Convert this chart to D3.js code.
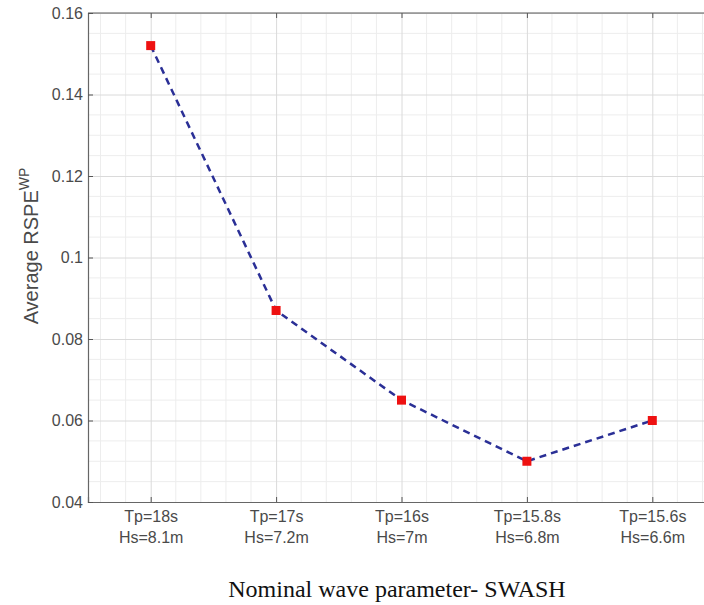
<!DOCTYPE html>
<html>
<head>
<meta charset="utf-8">
<script src="https://cdn.jsdelivr.net/npm/d3@7"></script>
<style>
  body { margin: 0; background: #fff; }
  .tick text { fill: #4a4a4a; font-family: "Liberation Sans", Arial, sans-serif; }
</style>
</head>
<body>
<div id="chart"></div>
<script>
const categories = [1, 2, 3, 4, 5];
const tpLabels = ["Tp=18s", "Tp=17s", "Tp=16s", "Tp=15.8s", "Tp=15.6s"];
const hsLabels = ["Hs=8.1m", "Hs=7.2m", "Hs=7m", "Hs=6.8m", "Hs=6.6m"];
const rspeValues = [0.152, 0.087, 0.065, 0.050, 0.060];
const yTicks = [0.04, 0.06, 0.08, 0.1, 0.12, 0.14, 0.16];

const W = 704, H = 605;
const margin = { top: 13, left: 88 };
const plotBottom = 502;
const plotRight = 715; // axes box runs past the window edge

const svg = d3.select("#chart").append("svg")
  .attr("width", W)
  .attr("height", H);

const x = d3.scaleLinear().domain([0.5, 5.5]).range([margin.left, plotRight]);
const y = d3.scaleLinear().domain([0.04, 0.16]).range([plotBottom, margin.top]);

// minor grid
const xMinor = d3.range(0.6, 5.5, 0.2).filter(v => Math.abs(v - Math.round(v)) > 0.01);
const yMinor = d3.range(0.04, 0.1601, 0.005).filter(v => Math.abs(v * 50 - Math.round(v * 50)) > 0.01);

svg.append("g").selectAll("line").data(xMinor).join("line")
  .attr("x1", d => x(d)).attr("x2", d => x(d))
  .attr("y1", margin.top).attr("y2", plotBottom)
  .attr("stroke", "#ededed").attr("stroke-width", 1);

svg.append("g").selectAll("line").data(yMinor).join("line")
  .attr("x1", margin.left).attr("x2", plotRight)
  .attr("y1", d => y(d)).attr("y2", d => y(d))
  .attr("stroke", "#ededed").attr("stroke-width", 1);

// major grid
svg.append("g")
  .attr("transform", `translate(0,${plotBottom})`)
  .call(d3.axisBottom(x).tickValues(categories).tickSize(-(plotBottom - margin.top)).tickFormat(""))
  .call(g => g.select(".domain").remove())
  .call(g => g.selectAll("line").attr("stroke", "#dadada"));

svg.append("g")
  .attr("transform", `translate(${margin.left},0)`)
  .call(d3.axisLeft(y).tickValues(yTicks).tickSize(-(plotRight - margin.left)).tickFormat(""))
  .call(g => g.select(".domain").remove())
  .call(g => g.selectAll("line").attr("stroke", "#dadada"));

// axes box
svg.append("line")
  .attr("x1", margin.left).attr("x2", plotRight)
  .attr("y1", margin.top).attr("y2", margin.top)
  .attr("stroke", "#5a5a5a").attr("stroke-width", 1.2);

// bottom axis
const xAxis = svg.append("g")
  .attr("transform", `translate(0,${plotBottom})`)
  .call(d3.axisBottom(x).tickValues(categories).tickSize(-5).tickFormat(""));
xAxis.select(".domain").attr("stroke", "#666").attr("stroke-width", 1.2);
xAxis.selectAll(".tick line").attr("stroke", "#555");
xAxis.selectAll(".tick").each(function(d, i) {
  const t = d3.select(this).append("text")
    .attr("text-anchor", "middle")
    .attr("fill", "#4a4a4a")
    .style("font-family", "'Liberation Sans', Arial, sans-serif")
    .style("font-size", "16px");
  t.append("tspan").attr("x", 0).attr("y", 20).text(tpLabels[i]);
  t.append("tspan").attr("x", 0).attr("y", 41).text(hsLabels[i]);
});

// top ticks
svg.append("g")
  .attr("transform", `translate(0,${margin.top})`)
  .call(d3.axisTop(x).tickValues(categories).tickSize(-5).tickFormat(""))
  .call(g => g.select(".domain").remove())
  .call(g => g.selectAll("line").attr("stroke", "#555"));

// left axis
const yAxis = svg.append("g")
  .attr("transform", `translate(${margin.left},0)`)
  .call(d3.axisLeft(y).tickValues(yTicks).tickSize(-5).tickPadding(5).tickFormat(d3.format("")));
yAxis.select(".domain").attr("stroke", "#666").attr("stroke-width", 1.2);
yAxis.selectAll(".tick line").attr("stroke", "#555");
yAxis.selectAll(".tick text")
  .style("font-size", "16px")
  .attr("fill", "#4a4a4a");

// y label
const yl = svg.append("text")
  .attr("transform", `translate(38,246) rotate(-90)`)
  .attr("text-anchor", "middle")
  .attr("fill", "#4a4a4a")
  .style("font-family", "'Liberation Sans', Arial, sans-serif")
  .style("font-size", "20px");
yl.append("tspan").text("Average RSPE");
yl.append("tspan").attr("dy", -9).style("font-size", "14px").text("WP");

// x label
svg.append("text")
  .attr("x", 397)
  .attr("y", 597)
  .attr("text-anchor", "middle")
  .attr("fill", "#111")
  .style("font-family", "'Liberation Serif', 'Times New Roman', serif")
  .style("font-size", "24px")
  .text("Nominal wave parameter- SWASH");

// line
const line = d3.line()
  .x((d, i) => x(categories[i]))
  .y(d => y(d));

svg.append("path")
  .datum(rspeValues)
  .attr("d", line)
  .attr("fill", "none")
  .attr("stroke", "#2a2f96")
  .attr("stroke-width", 2.5)
  .attr("stroke-dasharray", "7,5");

// markers
svg.append("g").selectAll("rect").data(rspeValues).join("rect")
  .attr("x", (d, i) => x(categories[i]) - 4.5)
  .attr("y", d => y(d) - 4.5)
  .attr("width", 9)
  .attr("height", 9)
  .attr("fill", "#ee1111");
</script>
</body>
</html>
